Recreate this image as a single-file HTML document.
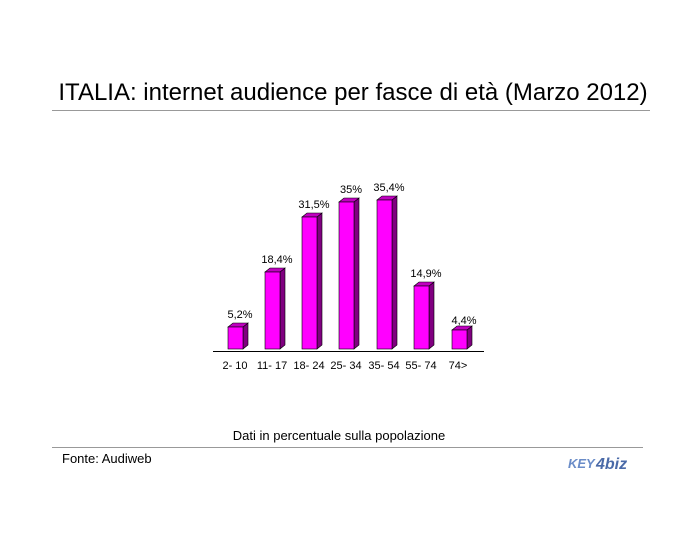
<!DOCTYPE html>
<html><head><style>
body{margin:0;background:#fff;width:700px;height:550px;overflow:hidden;font-family:"Liberation Sans",sans-serif;}
</style></head><body>
<svg width="700" height="550" xmlns="http://www.w3.org/2000/svg" font-family="Liberation Sans, sans-serif">
<text x="353" y="100" font-size="24" text-anchor="middle" fill="#000">ITALIA: internet audience per fasce di età (Marzo 2012)</text>
<line x1="52" y1="110.5" x2="650" y2="110.5" stroke="#999" stroke-width="1"/>
<g stroke="#000" stroke-width="0.6">
<polygon points="243,327 248,323 248,345 243,349" fill="#800080"/><polygon points="228,327 233,323 248,323 243,327" fill="#c000c0"/><rect x="228" y="327" width="15" height="22" fill="#ff00ff"/>
<polygon points="280,272 285,268 285,345 280,349" fill="#800080"/><polygon points="265,272 270,268 285,268 280,272" fill="#c000c0"/><rect x="265" y="272" width="15" height="77" fill="#ff00ff"/>
<polygon points="317,217 322,213 322,345 317,349" fill="#800080"/><polygon points="302,217 307,213 322,213 317,217" fill="#c000c0"/><rect x="302" y="217" width="15" height="132" fill="#ff00ff"/>
<polygon points="354,202 359,198 359,345 354,349" fill="#800080"/><polygon points="339,202 344,198 359,198 354,202" fill="#c000c0"/><rect x="339" y="202" width="15" height="147" fill="#ff00ff"/>
<polygon points="392,200 397,196 397,345 392,349" fill="#800080"/><polygon points="377,200 382,196 397,196 392,200" fill="#c000c0"/><rect x="377" y="200" width="15" height="149" fill="#ff00ff"/>
<polygon points="429,286 434,282 434,345 429,349" fill="#800080"/><polygon points="414,286 419,282 434,282 429,286" fill="#c000c0"/><rect x="414" y="286" width="15" height="63" fill="#ff00ff"/>
<polygon points="467,330 472,326 472,345 467,349" fill="#800080"/><polygon points="452,330 457,326 472,326 467,330" fill="#c000c0"/><rect x="452" y="330" width="15" height="19" fill="#ff00ff"/>
</g>
<line x1="213" y1="351.5" x2="484" y2="351.5" stroke="#000" stroke-width="1"/>
<g font-size="11" text-anchor="middle" fill="#000">
<text x="240" y="318">5,2%</text><text x="277" y="263">18,4%</text><text x="314" y="208">31,5%</text><text x="351" y="193">35%</text><text x="389" y="191">35,4%</text><text x="426" y="277">14,9%</text><text x="464" y="324">4,4%</text>
<text x="235" y="369">2- 10</text><text x="272" y="369">11- 17</text><text x="309" y="369">18- 24</text><text x="346" y="369">25- 34</text><text x="384" y="369">35- 54</text><text x="421" y="369">55- 74</text><text x="458" y="369">74&gt;</text>
</g>
<text x="339" y="440" font-size="13" text-anchor="middle">Dati in percentuale sulla popolazione</text>
<line x1="52" y1="447.5" x2="643" y2="447.5" stroke="#999" stroke-width="1"/>
<text x="62" y="463" font-size="13">Fonte: Audiweb</text>
<text x="568" y="468" font-size="13" font-weight="bold" fill="#6a8cc8" font-style="italic">KEY</text>
<text x="596" y="469" font-size="16" font-weight="bold" fill="#4a6aa8" font-style="italic">4biz</text>
</svg>
</body></html>
